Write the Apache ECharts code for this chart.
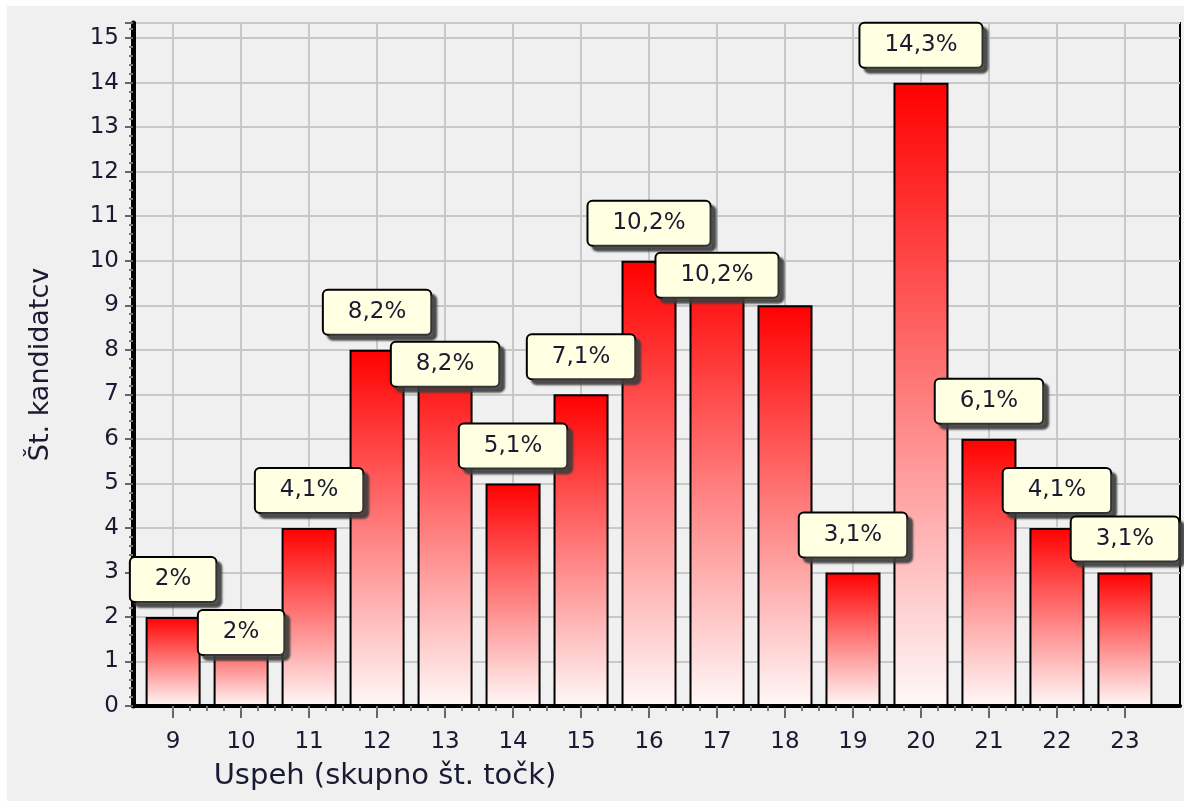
<!DOCTYPE html>
<html>
<head>
<meta charset="utf-8">
<script src="https://cdn.jsdelivr.net/npm/echarts@6/dist/echarts.min.js"></script>
<style>
  html, body { margin: 0; padding: 0; background: #ffffff; }
  #container { position: absolute; left: 7px; top: 6px; width: 1177px; height: 795px; background: #f0f0f0; }
</style>
</head>
<body>
<div id="container"></div>
<script>
// tocke (skupno st. tock) in stevilo kandidatov
var categories = [9, 10, 11, 12, 13, 14, 15, 16, 17, 18, 19, 20, 21, 22, 23];
var counts = [2, 2, 4, 8, 8, 5, 7, 10, 10, 9, 3, 14, 6, 4, 3];
var shares = ['2%', '2%', '4,1%', '8,2%', '8,2%', '5,1%', '7,1%', '10,2%', '10,2%', '', '3,1%', '14,3%', '6,1%', '4,1%', '3,1%'];

// oznake, ki jih je original zamaknil navzdol
var labelShift = { 10: 53, 13: 52, 17: 52, 23: 4 };

var font = 'DejaVu Sans';
var textColor = '#1a1a33';

var minorTicks = [];
for (var c = categories[0]; c < categories[categories.length - 1]; c += 0.25) {
    minorTicks.push(c);
}

var barData = categories.map(function (cat, i) {
    var item = { value: [cat, counts[i]] };
    if (shares[i] === '') {
        item.label = { show: false };
    } else if (labelShift[cat]) {
        item.label = { offset: [0, labelShift[cat]] };
    }
    return item;
});

var chart = echarts.init(document.getElementById('container'));
var option = {
    animation: false,
    grid: {
        left: 126,
        top: 17,
        right: 4,
        bottom: 95,
        show: true,
        borderColor: '#000',
        borderWidth: 2,
        backgroundColor: 'transparent'
    },
    xAxis: [
        {
            type: 'value',
            min: 8.41,
            max: 23.81,
            minInterval: 1,
            maxInterval: 1,
            name: 'Uspeh (skupno št. točk)',
            nameLocation: 'middle',
            nameGap: 56,
            nameTextStyle: {
                fontFamily: font,
                fontSize: 29,
                color: textColor,
                padding: [0, 543, 0, 0]
            },
            axisLine: { show: true, lineStyle: { color: '#000', width: 4 } },
            axisTick: {
                show: true,
                customValues: categories,
                length: 12,
                lineStyle: { color: '#666', width: 2 }
            },
            axisLabel: {
                customValues: categories,
                margin: 25,
                fontFamily: font,
                fontSize: 23,
                color: textColor
            },
            splitLine: { show: true, lineStyle: { color: '#c8c8c8', width: 2 } }
        },
        {
            type: 'value',
            min: 8.41,
            max: 23.81,
            position: 'bottom',
            axisLine: { show: false },
            axisTick: {
                show: true,
                customValues: minorTicks,
                length: 5,
                lineStyle: { color: '#777', width: 2 }
            },
            axisLabel: { show: false },
            splitLine: { show: false }
        }
    ],
    yAxis: {
        type: 'value',
        min: 0,
        max: 15.34,
        interval: 1,
        name: 'Št. kandidatcv',
        nameLocation: 'middle',
        nameGap: 79,
        nameTextStyle: {
            fontFamily: font,
            fontSize: 27,
            color: textColor
        },
        axisLine: { show: true, lineStyle: { color: '#000', width: 5 } },
        axisTick: { length: 8, lineStyle: { color: '#666', width: 2 } },
        minorTick: { show: true, splitNumber: 5, length: 4, lineStyle: { color: '#777', width: 2 } },
        axisLabel: {
            margin: 14,
            fontFamily: font,
            fontSize: 23,
            color: textColor,
            formatter: function (v) { return Number.isInteger(v) ? String(v) : ''; }
        },
        splitLine: { show: true, lineStyle: { color: '#c8c8c8', width: 2 } }
    },
    series: [
        {
            type: 'bar',
            xAxisIndex: 0,
            data: barData,
            barWidth: 55,
            itemStyle: {
                color: new echarts.graphic.LinearGradient(0, 0, 0, 1, [
                    { offset: 0, color: '#ff0000' },
                    { offset: 1, color: '#fff8f8' }
                ]),
                borderColor: '#000',
                borderWidth: 2
            },
            label: {
                show: true,
                position: 'top',
                distance: 16,
                formatter: function (p) { return shares[p.dataIndex]; },
                fontFamily: font,
                fontSize: 23,
                lineHeight: 27,
                color: textColor,
                backgroundColor: '#ffffe1',
                borderColor: '#000',
                borderWidth: 2,
                borderRadius: 4,
                padding: [8, 24, 8, 24],
                shadowColor: 'rgba(60,60,60,0.85)',
                shadowOffsetX: 5,
                shadowOffsetY: 5,
                shadowBlur: 2
            }
        }
    ]
};
chart.setOption(option);
</script>
</body>
</html>
